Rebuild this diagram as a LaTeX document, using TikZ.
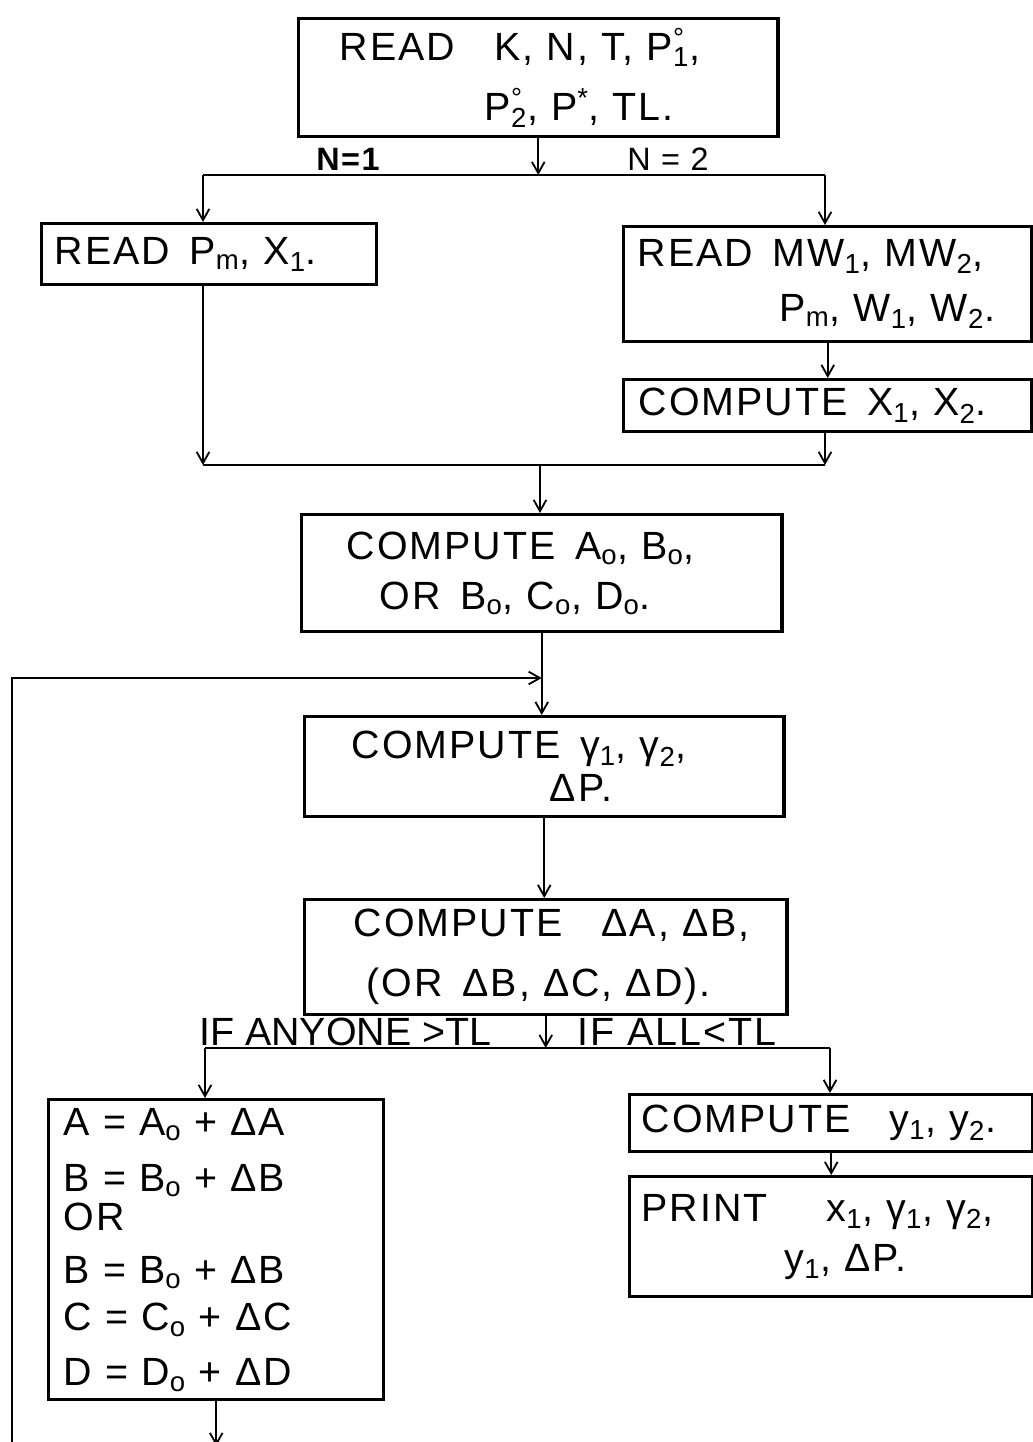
\documentclass[tikz,border=0pt]{standalone}
\usepackage{fontspec}
\setmainfont{Liberation Sans}[LetterSpace=5]
\usetikzlibrary{arrows.meta}
\newcommand{\lo}[1]{\textsubscript{#1}}
\newcommand{\degsub}[1]{\rlap{\textsuperscript{°}}\textsubscript{#1}}
\newcommand{\ind}[1]{\hspace*{#1}}

\begin{document}
\begin{tikzpicture}[x=0.025cm,y=-0.025cm,
    >={Straight Barb[length=8pt,width=9pt]},
    box/.style={draw,line width=2.4pt,anchor=north west,align=left,
      inner sep=0pt,font=\fontsize{28}{34}\selectfont},
    lab/.style={anchor=base,inner sep=1pt,font=\fontsize{28}{34}\selectfont},
    every path/.style={line width=1.3pt}]
  \useasboundingbox (0,0) rectangle (1033,1442);
  % boxes
  \node[box,minimum height=2.95cm,text width=11.975cm] (rd1) at (297,17)
    {\ind{1.025cm}READ\quad K, N, T, P\degsub{1},\\[8.7pt]\ind{4.65cm}P\degsub{2}, P\textsuperscript{*}, TL.};
  \node[box,minimum height=1.525cm,text width=8.375cm] (rd2) at (40,222)
    {\ind{0.325cm}READ\enspace P\lo{m}, X\lo{1}.};
  \node[box,minimum height=2.875cm,text width=10.2cm] (rd3) at (622,225)
    {\ind{0.35cm}READ\enspace MW\lo{1}, MW\lo{2},\\[5pt]\ind{3.9cm}P\lo{m}, W\lo{1}, W\lo{2}.};
  \node[box,minimum height=1.3cm,text width=10.2cm] (cx) at (622,378)
    {\ind{0.375cm}COMPUTE\enspace X\lo{1}, X\lo{2}.};
  \node[box,minimum height=2.925cm,text width=12.0cm] (ca) at (300,513)
    {\ind{1.125cm}COMPUTE\enspace A\lo{o}, B\lo{o},\\[1.6pt]\ind{1.95cm}OR\enspace B\lo{o}, C\lo{o}, D\lo{o}.};
  \node[box,minimum height=2.5cm,text width=11.975cm] (cg) at (303,715)
    {\ind{1.175cm}COMPUTE\enspace γ\lo{1}, γ\lo{2},\\[-3.4pt]\ind{6.125cm}ΔP.};
  \node[box,minimum height=2.875cm,text width=12.05cm] (cd) at (303,898)
    {\ind{1.225cm}COMPUTE\quad ΔA, ΔB,\\[8.7pt]\ind{1.55cm}(OR\enspace ΔB, ΔC, ΔD).};
  \node[box,minimum height=7.5cm,text width=8.375cm] (up) at (47,1098)
    {\ind{0.375cm}A = A\lo{o} + ΔA\\[5.8pt]\ind{0.375cm}B = B\lo{o} + ΔB\\[-5.6pt]\ind{0.375cm}OR\\[3pt]%
     \ind{0.375cm}B = B\lo{o} + ΔB\\[0.1pt]\ind{0.375cm}C = C\lo{o} + ΔC\\[5.1pt]\ind{0.375cm}D = D\lo{o} + ΔD};
  \node[box,minimum height=1.425cm,text width=10.075cm] (cy) at (628,1093)
    {\ind{0.3cm}COMPUTE\quad y\lo{1}, y\lo{2}.};
  \node[box,minimum height=3.0cm,text width=10.075cm] (pr) at (628,1175)
    {\ind{0.3cm}PRINT\quad\enspace x\lo{1}, γ\lo{1}, γ\lo{2},\\[1.6pt]\ind{3.875cm}y\lo{1}, ΔP.};
  % branch points
  \coordinate (nl) at (203,175);
  \coordinate (nr) at (825,175);
  \coordinate (jl) at (203,465);
  \coordinate (jr) at (825,465);
  \coordinate (jm) at (540,465);
  \coordinate (ltop) at (12,678);
  \coordinate (lbot) at (12,1446);
  \coordinate (dl) at (205,1048);
  \coordinate (dr) at (830,1048);
  % labels
  \node[lab,font=\fontsize{23}{28}\selectfont\bfseries] (n1) at (348,170) {N=1};
  \node[lab,font=\fontsize{23}{28}\selectfont] (n2) at (668,170) {N = 2};
  \node[lab,anchor=base west,font=\fontsize{28}{34}\selectfont\addfontfeature{LetterSpace=0}] (iany) at (197,1045) {IF ANYONE >TL};
  \node[lab,anchor=base west] (iall) at (575,1045) {IF ALL<TL};
  % connectors
  \draw[->] (rd1.south) -- (rd1.south |- nl);
  \draw (nl) -- (nr);
  \draw[->] (nl) -- (nl |- rd2.north);
  \draw[->] (nr) -- (nr |- rd3.north);
  \draw[->] (rd3.south) -- (cx.north);
  \draw[->] (nl |- rd2.south) -- (jl);
  \draw[->] (nr |- cx.south) -- (jr);
  \draw (jl) -- (jr);
  \draw[->] (jm) -- (jm |- ca.north);
  \draw[->] (ca.south) -- (ca.south |- cg.north);
  \draw[->] (lbot) -- (ltop) -- (ca.south |- ltop);
  \draw[->] (cg.south) -- (cg.south |- cd.north);
  \draw[->] (cd.south) -- (cd.south |- dl);
  \draw (dl) -- (dr);
  \draw[->] (dl) -- (dl |- up.north);
  \draw[->] (dr) -- (dr |- cy.north);
  \draw[->] (cy.south) -- (pr.north);
  \draw[->] (up.south) -- (up.south |- lbot);
\end{tikzpicture}
\end{document}
